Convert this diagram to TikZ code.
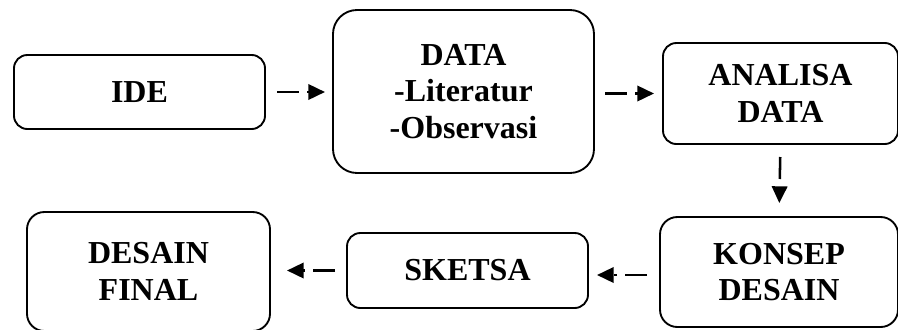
\documentclass[tikz,border=0pt]{standalone}
\usepackage{fontspec}
\setmainfont{Liberation Serif}
\usetikzlibrary{arrows.meta}

\begin{document}
\begin{tikzpicture}[x=0.75pt, y=-0.75pt,
	kotak/.style={draw, line width=1.4pt, inner sep=0pt, outer sep=0pt, align=center,
		font=\fontsize{24}{27.6}\selectfont\bfseries},
	alur/.style={line width=1.9pt, dash pattern=on 16.5pt off 6pt on 2pt off 6pt,
		-{Triangle[length=12.5pt, width=11.5pt]}}]
	
	% Batas gambar (898 x 329 px)
	\useasboundingbox (0,0) rectangle (898,329);
	
	% Baris atas
	\node[kotak, rounded corners=10pt, minimum width=188.25pt, minimum height=55.5pt] (ide) at (139.5,92) {IDE};
	\node[kotak, rounded corners=18pt, minimum width=195.75pt, minimum height=122.25pt] (data) at (463.5,91.5) {DATA\\-Literatur\\-Observasi};
	\node[kotak, rounded corners=10pt, minimum width=176.25pt, minimum height=75.75pt] (analisa) at (780.5,93.5) {ANALISA\\DATA};
	
	% Baris bawah
	\node[kotak, rounded corners=13pt, minimum width=178.5pt, minimum height=82.5pt] (konsep) at (779,272) {KONSEP\\DESAIN};
	\node[kotak, rounded corners=10pt, minimum width=180.75pt, minimum height=56.25pt] (sketsa) at (467.5,270.5) {SKETSA};
	\node[kotak, rounded corners=13pt, minimum width=182.25pt, minimum height=89.25pt] (final) at (148.5,271.5) {DESAIN\\FINAL};
	
	% Panah putus-putus
	\draw[alur, shorten <=9pt, shorten >=6pt] (ide.east) -- (ide.east -| data.west);
	\draw[alur, shorten <=8.25pt, shorten >=6.75pt] (data.east |- analisa.west) -- (analisa.west);
	\draw[alur, shorten <=9.75pt, shorten >=10.5pt] (analisa.south) -- (konsep.north);
	\draw[alur, shorten <=9.75pt, shorten >=6.75pt] ([yshift=-2.25pt]konsep.west) -- ([yshift=-2.25pt]konsep.west -| sketsa.east);
	\draw[alur, shorten <=9pt, shorten >=12.75pt] (sketsa.west) -- (sketsa.west -| final.east);
	
\end{tikzpicture}
\end{document}
